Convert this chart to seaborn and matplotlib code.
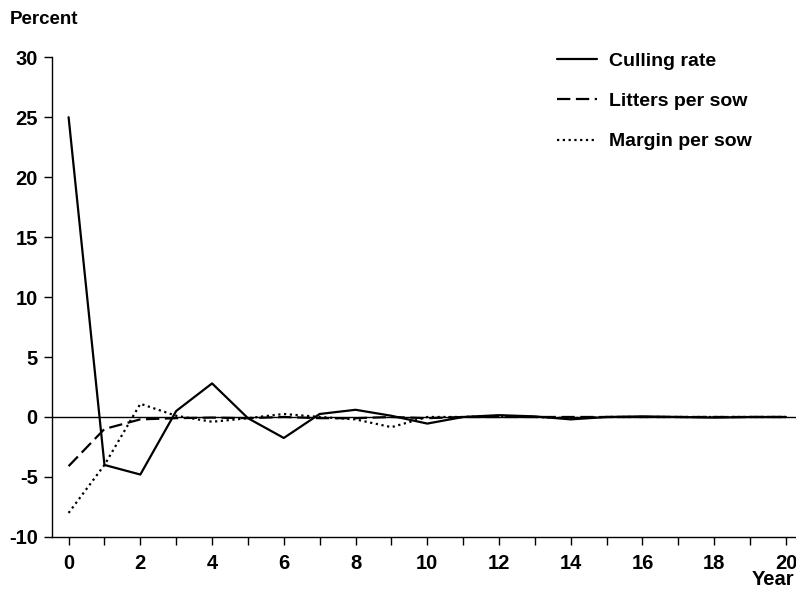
import numpy as np
import pandas as pd
import matplotlib
matplotlib.use("Agg")
import matplotlib.pyplot as plt
import seaborn as sns

years = list(range(0, 21))
culling_rate = [25.0, -4.0, -4.8, 0.5, 2.8, -0.1, -1.75, 0.25, 0.6, 0.1, -0.55,
                0.0, 0.15, 0.05, -0.2, 0.0, 0.05, 0.0, -0.05, 0.0, 0.0]
litters_per_sow = [-4.1, -1.0, -0.2, -0.1, -0.05, -0.1, 0.0, -0.1, -0.1, 0.0, -0.1,
                   0.0, 0.0, 0.0, 0.0, 0.0, 0.0, 0.0, 0.0, 0.0, 0.0]
margin_per_sow = [-8.0, -4.0, 1.1, 0.1, -0.4, -0.1, 0.25, 0.0, -0.2, -0.85, 0.0,
                  0.0, 0.1, 0.0, -0.1, 0.0, 0.0, 0.0, 0.0, 0.0, 0.0]
series_names = ["Culling rate", "Litters per sow", "Margin per sow"]
y_ticks = [-10, -5, 0, 5, 10, 15, 20, 25, 30]
x_ticks = list(range(0, 21, 2))

df = pd.DataFrame({
    "Year": years * 3,
    "Percent": culling_rate + litters_per_sow + margin_per_sow,
    "Series": [series_names[0]] * 21 + [series_names[1]] * 21 + [series_names[2]] * 21,
})

sns.set_theme(style="white")
plt.rcParams['font.family'] = ['Liberation Sans', 'DejaVu Sans']
plt.rcParams['font.weight'] = 'bold'
plt.rcParams['text.color'] = 'black'
plt.rcParams['xtick.color'] = 'black'
plt.rcParams['ytick.color'] = 'black'
plt.rcParams['axes.labelcolor'] = 'black'

fig = plt.figure(figsize=(7.96, 5.90), dpi=100)
ax = fig.add_axes([0.065, 0.09, 0.935, 0.813])

ax.axhline(0, color="black", lw=1.0, zorder=1)

sns.lineplot(data=df, x="Year", y="Percent", hue="Series", style="Series",
             palette=["black", "black", "black"],
             dashes={series_names[0]: "", series_names[1]: (6, 2.5), series_names[2]: (1, 1.6)},
             linewidth=1.6, ax=ax, legend=True)

ax.set_xlim(-0.47, 20.28)
ax.set_ylim(-10, 30)
ax.set_yticks(y_ticks)
ax.set_yticklabels([str(t) for t in y_ticks], fontsize=14.5, fontweight='bold')
ax.set_xticks(x_ticks)
ax.set_xticklabels([str(t) for t in x_ticks], fontsize=14.5, fontweight='bold')
ax.set_xticks(list(range(1, 21, 2)), minor=True)
ax.tick_params(axis='both', which='both', direction='out', length=6, width=1, color='black',
               labelcolor='black', bottom=True, left=True)
ax.tick_params(axis='x', which='major', pad=6)
ax.tick_params(axis='y', which='major', pad=4)
ax.set_xlabel("")
ax.set_ylabel("")
for s in ["top", "right"]:
    ax.spines[s].set_visible(False)
for s in ["left", "bottom"]:
    ax.spines[s].set_color("black")
    ax.spines[s].set_linewidth(1.0)

fig.text(0.012, 0.967, "Percent", fontsize=13.5, fontweight='bold', ha='left', va='center',
         color='black')
fig.text(0.998, 0.017, "Year", fontsize=14.5, fontweight='bold', ha='right', va='center',
         color='black')

handles, labels = ax.get_legend_handles_labels()
if ax.get_legend() is not None:
    ax.get_legend().remove()
leg = fig.legend(handles, labels, loc='upper left', bbox_to_anchor=(0.70, 0.911),
                 bbox_transform=fig.transFigure, frameon=False, borderpad=0,
                 borderaxespad=0, fontsize=14, handlelength=2.05, labelspacing=1.16,
                 handletextpad=0.6)
for t in leg.get_texts():
    t.set_fontweight('bold')
    t.set_color('black')

fig.savefig("out.png", dpi=100)
